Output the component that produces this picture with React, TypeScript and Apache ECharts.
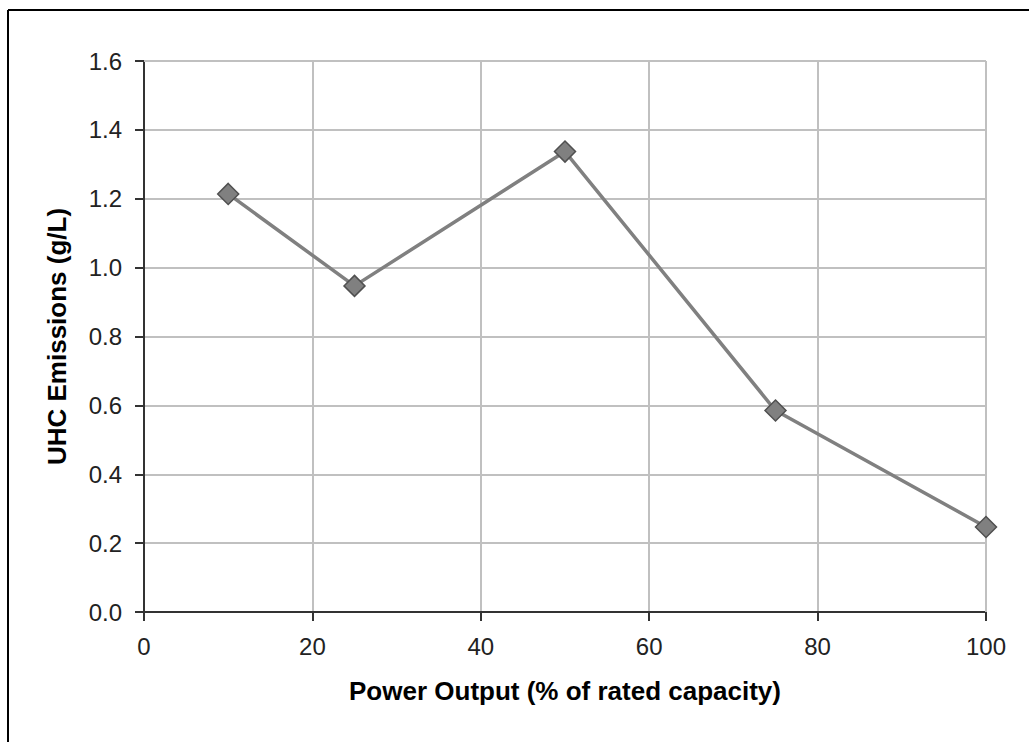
import React, { useEffect, useRef } from "react";
import * as echarts from "echarts";

const powerOutput = [10, 25, 50, 75, 100];
const uhcEmissions = [1.214, 0.947, 1.337, 0.585, 0.247];
const xTitle = "Power Output (% of rated capacity)";
const yTitle = "UHC Emissions (g/L)";

export default function App() {
  const ref = useRef<HTMLDivElement>(null);
  useEffect(() => {
    if (!ref.current) return;
    const chart = echarts.init(ref.current, null, { renderer: "svg" });
    const font = "'Liberation Sans', Arial, sans-serif";
    chart.setOption({
      animation: false,
      backgroundColor: "#ffffff",
      textStyle: { fontFamily: font },
      grid: { left: 144, top: 61, right: 43, bottom: 130, containLabel: false },
      xAxis: {
        type: "value",
        min: 0,
        max: 100,
        interval: 20,
        name: xTitle,
        nameLocation: "middle",
        nameGap: 66,
        nameTextStyle: { fontSize: 26, fontWeight: "bold", color: "#000", fontFamily: font, verticalAlign: "top" },
        axisLine: { show: true, onZero: false, lineStyle: { color: "#333", width: 2 } },
        axisTick: { show: true, length: 9, lineStyle: { color: "#333", width: 2 } },
        axisLabel: { fontSize: 24, color: "#222", margin: 22, fontFamily: font },
        splitLine: { show: true, lineStyle: { color: "#c0c0c0", width: 2 } },
      },
      yAxis: {
        type: "value",
        min: 0,
        max: 1.6,
        interval: 0.2,
        name: yTitle,
        nameLocation: "middle",
        nameGap: 74,
        nameTextStyle: { fontSize: 26, fontWeight: "bold", color: "#000", fontFamily: font },
        axisLine: { show: true, onZero: false, lineStyle: { color: "#333", width: 2 } },
        axisTick: { show: true, length: 9, lineStyle: { color: "#333", width: 2 } },
        axisLabel: {
          fontSize: 24,
          color: "#222",
          margin: 22,
          fontFamily: font,
          formatter: (v: number) => v.toFixed(1),
        },
        splitLine: { show: true, lineStyle: { color: "#c0c0c0", width: 2 } },
      },
      graphic: [
        { type: "line", shape: { x1: 144, y1: 61, x2: 986, y2: 61 }, style: { stroke: "#c0c0c0", lineWidth: 2 }, z: 1 },
        { type: "line", shape: { x1: 986, y1: 61, x2: 986, y2: 612 }, style: { stroke: "#c0c0c0", lineWidth: 2 }, z: 1 },
        { type: "line", shape: { x1: 8, y1: 10, x2: 1029, y2: 10 }, style: { stroke: "#000", lineWidth: 2 } },
        { type: "line", shape: { x1: 8, y1: 10, x2: 8, y2: 742 }, style: { stroke: "#000", lineWidth: 2 } },
      ],
      series: [
        {
          type: "line",
          data: powerOutput.map((x, i) => [x, uhcEmissions[i]]),
          symbol: "diamond",
          symbolSize: 21,
          lineStyle: { color: "#808080", width: 3.5 },
          itemStyle: { color: "#808080", borderColor: "#505050", borderWidth: 1.5 },
          z: 5,
        },
      ],
    });
    return () => chart.dispose();
  }, []);
  return (
    <div
      ref={ref}
      style={{ position: "absolute", left: 0, top: 0, width: 1029, height: 742, background: "#fff" }}
    />
  );
}
